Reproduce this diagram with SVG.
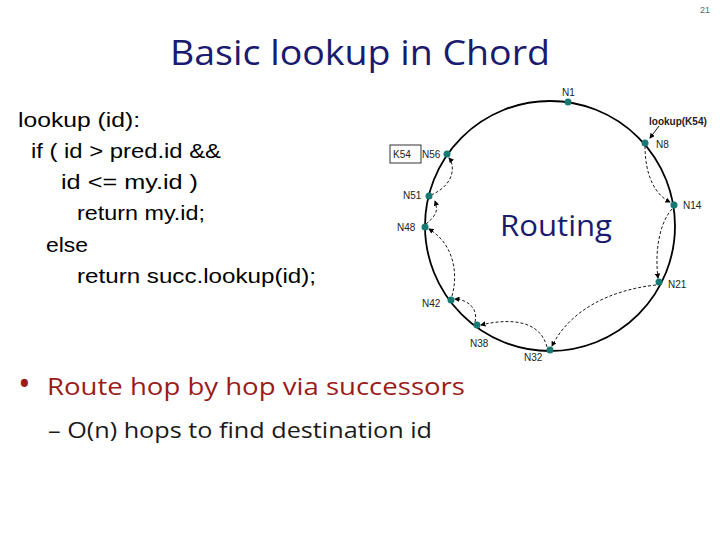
<svg xmlns="http://www.w3.org/2000/svg" width="720" height="540" viewBox="0 0 720 540">
<style>
.lbl{font-family:"Liberation Sans",Arial,sans-serif;font-size:10px;fill:#222}
.code{font-family:"Liberation Sans",Arial,sans-serif;font-size:21px;fill:#000}
.sl{font-family:"Open Sans","Noto Sans",sans-serif;fill:#1a1a6e}
.nd{fill:#167a72}
.hop{fill:none;stroke:#000;stroke-width:0.9;stroke-dasharray:3,2;marker-end:url(#ah)}
</style>
<defs><marker id="ah" markerWidth="6" markerHeight="6" refX="5" refY="3" orient="auto"><path d="M0,0L6,3L0,6z" fill="#000"/></marker></defs>
<rect width="720" height="540" fill="#fff"/>
<text x="700" y="13" font-family="Liberation Sans,sans-serif" font-size="9" fill="#666">21</text>
<text x="170" y="65" class="sl" font-size="35" textLength="380" lengthAdjust="spacingAndGlyphs">Basic lookup in Chord</text>
<g id="code">
<text class="code" x="18" y="127" textLength="122" lengthAdjust="spacingAndGlyphs">lookup (id):</text>
<text class="code" x="31" y="158" textLength="190" lengthAdjust="spacingAndGlyphs">if ( id &gt; pred.id &amp;&amp;</text>
<text class="code" x="61" y="189" textLength="137" lengthAdjust="spacingAndGlyphs">id &lt;= my.id )</text>
<text class="code" x="77" y="220" textLength="128" lengthAdjust="spacingAndGlyphs">return my.id;</text>
<text class="code" x="46" y="252" textLength="42" lengthAdjust="spacingAndGlyphs">else</text>
<text class="code" x="77" y="283" textLength="239" lengthAdjust="spacingAndGlyphs">return succ.lookup(id);</text>
</g>
<circle cx="550" cy="226" r="125" fill="none" stroke="#000" stroke-width="1.8"/>
<text x="500" y="236" class="sl" font-size="30" textLength="112" lengthAdjust="spacingAndGlyphs">Routing</text>
<g id="connectors">
<path class="hop" d="M645,146 C645,175 655,195 670,202"/>
<path class="hop" d="M672,209 C658,225 655,255 658,278"/>
<path class="hop" d="M656,285 C610,290 570,310 552,346"/>
<path class="hop" d="M547,347 C540,320 510,318 481,325"/>
<path class="hop" d="M475,322 C478,310 470,300 455,299"/>
<path class="hop" d="M452,296 C458,275 455,245 429,229"/>
<path class="hop" d="M426,224 C437,215 438,210 435,201"/>
<path class="hop" d="M431,195 C455,185 455,165 449,158"/>
<path class="hop" d="M659,126 L650,138" style="stroke-dasharray:none"/>
</g>
<g id="nodes">
<g id="N1"><circle class="nd" cx="568" cy="102" r="3.5"/><text class="lbl" x="562" y="96">N1</text></g>
<g id="N8"><circle class="nd" cx="645" cy="143" r="3.5"/><text class="lbl" x="656" y="148">N8</text></g>
<g id="N14"><circle class="nd" cx="674" cy="205" r="3.5"/><text class="lbl" x="683" y="209">N14</text></g>
<g id="N21"><circle class="nd" cx="659" cy="282" r="3.5"/><text class="lbl" x="668" y="288">N21</text></g>
<g id="N32"><circle class="nd" cx="550" cy="350" r="3.5"/><text class="lbl" x="524" y="361">N32</text></g>
<g id="N38"><circle class="nd" cx="477" cy="325" r="3.5"/><text class="lbl" x="470" y="347">N38</text></g>
<g id="N42"><circle class="nd" cx="451" cy="300" r="3.5"/><text class="lbl" x="422" y="307">N42</text></g>
<g id="N48"><circle class="nd" cx="425" cy="227" r="3.5"/><text class="lbl" x="397" y="231">N48</text></g>
<g id="N51"><circle class="nd" cx="429" cy="196" r="3.5"/><text class="lbl" x="403" y="199">N51</text></g>
<g id="N56"><circle class="nd" cx="447" cy="154" r="3.5"/><text class="lbl" x="422" y="158">N56</text></g>
<g id="K54"><rect x="390" y="145" width="31" height="18" fill="#fff" stroke="#000" stroke-width="0.8"/><text class="lbl" x="393" y="158">K54</text></g>
<text class="lbl" x="649" y="125" font-weight="bold" font-size="9.5">lookup(K54)</text>
</g>
<text x="18" y="396" class="sl" font-size="34" style="fill:#9b1b1b">•</text>
<text x="47" y="395" class="sl" font-size="24" style="fill:#9b1b1b" textLength="418" lengthAdjust="spacingAndGlyphs">Route hop by hop via successors</text>
<text x="48" y="438" class="sl" font-size="21" style="fill:#1a1a1a" textLength="384" lengthAdjust="spacingAndGlyphs">– O(n) hops to find destination id</text>
</svg>
